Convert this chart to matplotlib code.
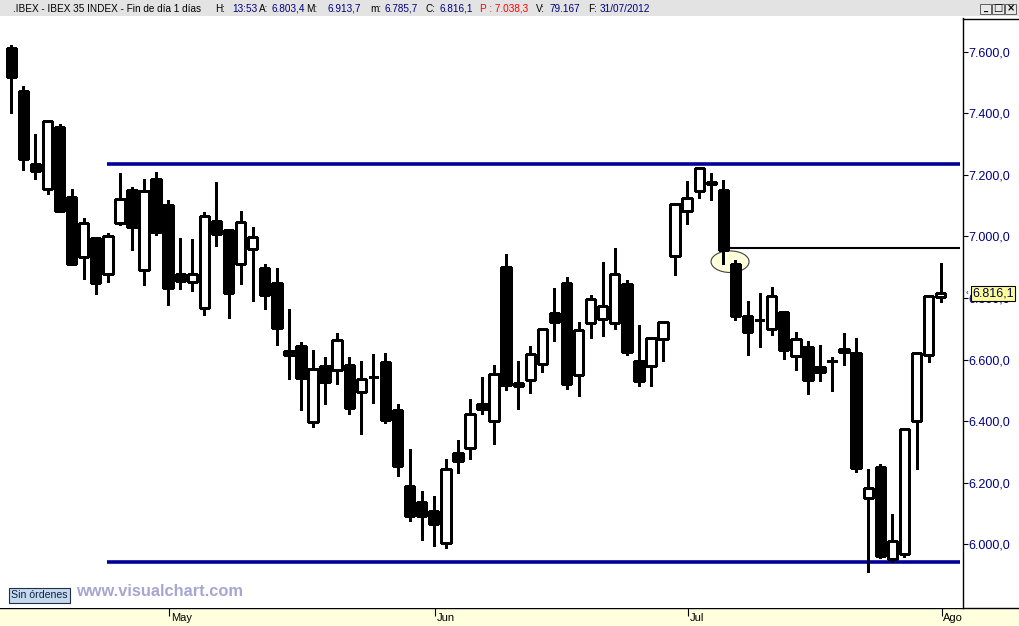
import matplotlib
matplotlib.use("Agg")
import matplotlib.pyplot as plt
from matplotlib.patches import Ellipse, Rectangle
from matplotlib.lines import Line2D
from matplotlib.transforms import blended_transform_factory
import matplotlib.transforms as mtrans
import numpy as np
import pandas as pd

# ---------------- data ----------------
holidays = ["2012-05-01"]
dates = [d for d in pd.bdate_range("2012-04-12", "2012-07-31")
         if d.strftime("%Y-%m-%d") not in holidays]

opens = [7611, 7473, 7236, 7154, 7356, 7129, 6934, 6995, 6878, 7044,
         7152, 6891, 7187, 7103, 6879, 6853, 6768, 7051, 7022, 6911,
         6960, 6899, 6850, 6627, 6643, 6396, 6578, 6567, 6581, 6495,
         6545, 6591, 6435, 6189, 6137, 6108, 6003, 6296, 6313, 6455,
         6399, 6902, 6515, 6535, 6587, 6750, 6850, 6551, 6720, 6733,
         6720, 6846, 6594, 6580, 6668, 6937, 7083, 7148, 7178, 7152,
         6912, 6740, 6730, 6700, 6755, 6611, 6640, 6575, 6594, 6626,
         6620, 6152, 6250, 5952, 5969, 6401, 6615, 6803.4]
highs = [7622, 7489, 7333, 7375, 7366, 7155, 7061, 6995, 7011, 7207,
         7161, 7187, 7210, 7119, 6996, 6993, 7080, 7178, 7024, 7084,
         7032, 6912, 6896, 6763, 6656, 6630, 6610, 6688, 6607, 6594,
         6617, 6623, 6455, 6309, 6173, 6157, 6277, 6338, 6471, 6542,
         6581, 6944, 6597, 6643, 6700, 6834, 6867, 6721, 6811, 6918,
         6964, 6859, 6711, 6671, 6726, 7105, 7181, 7222, 7207, 7184,
         6925, 6789, 6815, 6835, 6759, 6691, 6662, 6646, 6610, 6686,
         6671, 6244, 6260, 6098, 6373, 6620, 6805, 6913.7]
lows = [7402, 7217, 7188, 7138, 7081, 6910, 6861, 6812, 6851, 7036,
        6955, 6842, 7004, 6777, 6829, 6822, 6744, 6968, 6735, 6845,
        6790, 6763, 6647, 6537, 6436, 6381, 6456, 6521, 6423, 6358,
        6458, 6394, 6222, 6077, 6015, 5996, 5989, 6232, 6278, 6423,
        6326, 6501, 6440, 6491, 6560, 6660, 6504, 6482, 6670, 6676,
        6699, 6615, 6514, 6514, 6595, 6874, 7039, 7124, 7117, 6912,
        6728, 6615, 6641, 6679, 6601, 6566, 6488, 6530, 6498, 6582,
        6235, 5909, 5955, 5944, 5958, 6244, 6592, 6785.7]
closes = [7519, 7250, 7211, 7375, 7081, 6910, 7044, 6848, 7002, 7122,
          7030, 7148, 7013, 6832, 6855, 6878, 7067, 7007, 6816, 7047,
          6998, 6809, 6702, 6615, 6540, 6571, 6527, 6665, 6443, 6538,
          6545, 6404, 6255, 6093, 6093, 6067, 6244, 6271, 6422, 6440,
          6554, 6517, 6525, 6619, 6700, 6722, 6521, 6697, 6797, 6775,
          6878, 6626, 6530, 6671, 6723, 7105, 7125, 7222, 7169, 6956,
          6741, 6689, 6727, 6808, 6631, 6668, 6534, 6560, 6594, 6636,
          6248, 6182, 5961, 6010, 6373, 6620, 6805, 6816.1]

resistance_level = 7236
support_level = 5942
breakdown_level = 6961

month_labels = ["May", "Jun", "Jul", "Ago"]
month_tick_dates = ["2012-05-02", "2012-06-01", "2012-07-02", "2012-07-31"]

y_ticks = [6000, 6200, 6400, 6600, 6800, 7000, 7200, 7400, 7600]

header_pieces = [
    (".IBEX - IBEX 35 INDEX - Fin de día 1 días", "black", 13),
    ("H:", "black", 215), ("13:53", "#000080", 232),
    ("A:", "black", 259), ("6.803,4", "#000080", 272),
    ("M:", "black", 306), ("6.913,7", "#000080", 328),
    ("m:", "black", 370), ("6.785,7", "#000080", 385),
    ("C:", "black", 426), ("6.816,1", "#000080", 440),
    ("P : 7.038,3", "#FF0000", 480),
    ("V:", "black", 536), ("79.167", "#000080", 550),
    ("F:", "black", 588), ("31/07/2012", "#000080", 600),
]

# ---------------- figure ----------------
plt.rcParams['font.family'] = ['Liberation Sans', 'DejaVu Sans']
W, H = 1020, 626
fig = plt.figure(figsize=(W / 100, H / 100), dpi=100)
fig.patch.set_facecolor('white')


def fx(px):
    return px / W


def fy(py):
    return 1 - py / H


# header bar
fig.add_artist(Rectangle((0, fy(16)), 1, 16 / H, transform=fig.transFigure,
                         facecolor='#E3E3E3', edgecolor='none', zorder=0))
for txt, col, xpx in header_pieces:
    fig.text(fx(xpx), fy(8.5), txt, color=col, fontsize=7.2,
             va='center', ha='left')
# window buttons
for i, sym in enumerate(["_", "□", "×"]):
    x0 = 980 + i * 12.5
    fig.add_artist(Rectangle((fx(x0), fy(13.5)), 11.5 / W, 10 / H,
                             transform=fig.transFigure, facecolor='#E8E8E8',
                             edgecolor='#606060', lw=0.7, zorder=1))
    fig.text(fx(x0 + 5.75), fy(8.3), sym, fontsize=7 if sym != "_" else 6,
             ha='center', va='center', color='black',
             family=['DejaVu Sans'], fontweight='bold')

# bottom date band
band_top = 608
band = fig.add_axes([0, 0, 1, (H - band_top) / H])
band.set_facecolor('#FFFFDD')
band.set_xticks([])
band.set_yticks([])
for s in ['left', 'right', 'bottom']:
    band.spines[s].set_visible(False)
band.spines['top'].set_linewidth(1.0)
band.spines['top'].set_color('black')

# main axes
ax = fig.add_axes([0, fy(band_top), fx(963), (band_top - 18.5) / H])
ax.set_facecolor('white')
x = np.arange(len(dates))
o = np.array(opens, float)
h = np.array(highs, float)
l = np.array(lows, float)
c = np.array(closes, float)
up = c >= o

ax.vlines(x, l, h, color='black', lw=0.95, zorder=2, antialiased=False)
ax.bar(x[up], (c - o)[up], bottom=o[up], width=0.78, color='white',
       edgecolor='black', linewidth=0.95, zorder=3, antialiased=False)
ax.bar(x[~up], (c - o)[~up], bottom=o[~up], width=0.78, color='black',
       edgecolor='black', linewidth=0.95, zorder=3, antialiased=False)

# support / resistance lines
ax.hlines([resistance_level, support_level], 7.93, 78.6, color='#000099',
          lw=2.6, zorder=1.5)
ax.hlines(breakdown_level, 59.55, 78.6, color='black', lw=1.5, zorder=1.5)
ax.add_patch(Ellipse((59.55, 6918), width=3.15, height=70,
                     facecolor='#FFFFDC', edgecolor='#404040', lw=0.8,
                     zorder=1))

ax.set_xlim(-0.936, 78.85)
ax.set_ylim(7600 - (band_top - 51.7) / 0.3079, 7707.8)

for s in ['left', 'top', 'bottom']:
    ax.spines[s].set_visible(False)
ax.spines['right'].set_linewidth(1.0)
ax.spines['right'].set_color('black')

ax.yaxis.tick_right()
ax.set_yticks(y_ticks)
ax.set_yticklabels([f"{v:,.1f}".replace(",", "X").replace(".", ",").replace("X", ".")
                    for v in y_ticks])
ax.tick_params(axis='y', direction='out', length=3.6, width=0.8,
               color='black', labelcolor='#000080', labelsize=9, pad=0.6)

date_strs = [d.strftime("%Y-%m-%d") for d in dates]
month_idx = [date_strs.index(dd) + 0.1 for dd in month_tick_dates]
ax.set_xticks(month_idx)
ax.set_xticklabels(month_labels)
ax.tick_params(axis='x', direction='out', length=5.5, width=0.8,
               color='black', labelcolor='black', labelsize=8, pad=-1.6)
offset = mtrans.ScaledTranslation(1.5 / 100, 0, fig.dpi_scale_trans)
for lab in ax.get_xticklabels():
    lab.set_ha('left')
    lab.set_transform(lab.get_transform() + offset)

# last price label
tr = blended_transform_factory(ax.transAxes, ax.transData)
last_txt = f"{closes[-1]:,.1f}".replace(",", "X").replace(".", ",").replace("X", ".")
ax.text(1.0095, closes[-1], last_txt, transform=tr, fontsize=9,
        color='#000050', va='center', ha='left', clip_on=False, zorder=10,
        bbox=dict(boxstyle='square,pad=0.12', facecolor='#FFFF99',
                  edgecolor='black', lw=0.8))
ax.text(1.003, closes[-1], "‹", transform=tr, fontsize=6, color='#000050',
        va='center', ha='left', clip_on=False, zorder=10)

# top line of price-scale panel
fig.add_artist(Line2D([fx(963), 1], [fy(18.5), fy(18.5)],
                      transform=fig.transFigure, color='black', lw=1.0))

# watermark / status
fig.text(fx(11), fy(595.2), "Sin órdenes", fontsize=7.6, color='#102040',
         va='center', ha='left',
         bbox=dict(boxstyle='square,pad=0.22', facecolor='#C4D8EE',
                   edgecolor='#203040', lw=0.8))
fig.text(fx(76), fy(592), "www.visualchart.com", fontsize=11.8,
         fontweight='bold', color='#A6A6D0', va='center', ha='left')

fig.savefig("out.png", dpi=100)
